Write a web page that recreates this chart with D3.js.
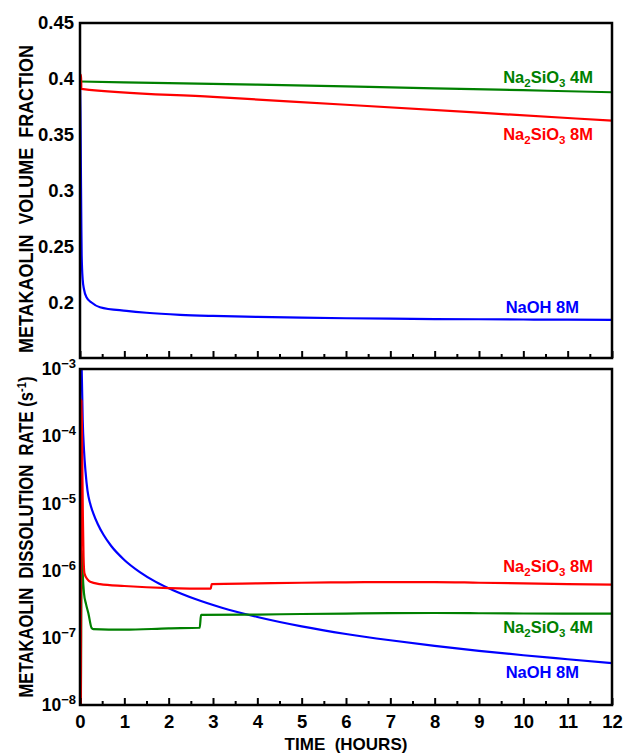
<!DOCTYPE html>
<html>
<head>
<meta charset="utf-8">
<script src="https://cdn.jsdelivr.net/npm/d3@7"></script>
<style>
  body { margin: 0; background: #fff; }
  text { font-family: Arial, "Liberation Sans", Helvetica, sans-serif; font-weight: bold; white-space: pre; }
</style>
</head>
<body>
<div id="chart"></div>
<script>
// ---- data ----
// top panel: metakaolin volume fraction vs time (hours)
var vfNaOH8Time = [0, 0.01, 0.02, 0.03, 0.038, 0.06, 0.09, 0.15, 0.26, 0.45, 1.05, 1.5, 2.26, 3, 4, 5, 6, 7, 8, 9, 10, 11, 12];
var vfNaOH8 = [0.400, 0.370, 0.320, 0.270, 0.2413, 0.2205, 0.2116, 0.2042, 0.1997, 0.1955, 0.1922, 0.1905, 0.1887, 0.1877, 0.1868, 0.1861, 0.1856, 0.1852, 0.1849, 0.1847, 0.1845, 0.1843, 0.1842];
var vfSil8Time = [0, 0.025, 0.03, 3, 6, 9, 12];
var vfSil8 = [0.4036, 0.4036, 0.391, 0.3838, 0.3768, 0.3697, 0.3625];
var vfSil4Time = [0, 2, 4, 6, 8, 10, 12];
var vfSil4 = [0.3976, 0.3962, 0.3948, 0.3932, 0.3915, 0.3898, 0.388];

// bottom panel: dissolution rate (1/s) vs time (hours)
var rNaOH8Time = [0.02, 0.038, 0.061, 0.09, 0.124, 0.169, 0.226, 0.3, 0.4, 0.53, 0.7, 1, 1.35, 1.7, 2.1, 2.6, 3.2, 4, 5, 6, 7, 8, 9, 10, 11, 12];
var rNaOH8 = [2e-3, 1e-3, 1.74e-4, 6.2e-5, 3.0e-5, 1.55e-5, 1.01e-5, 7.1e-6, 4.94e-6, 3.41e-6, 2.34e-6, 1.44e-6, 9.5e-7, 6.85e-7, 5.1e-7, 3.77e-7, 2.8e-7, 2.04e-7, 1.48e-7, 1.14e-7, 9.2e-8, 7.6e-8, 6.4e-8, 5.5e-8, 4.8e-8, 4.2e-8];
var rSil8Time = [0.02, 0.035, 0.05, 0.065, 0.08, 0.1, 0.17, 0.23, 0.45, 1, 2, 2.95, 2.97, 4, 5, 6, 7.2, 8, 9, 10, 11, 12];
var rSil8 = [9e-9, 3.5e-4, 5e-5, 6.3e-6, 1.6e-6, 9.1e-7, 7.4e-7, 6.8e-7, 6.3e-7, 5.9e-7, 5.5e-7, 5.4e-7, 6.3e-7, 6.45e-7, 6.6e-7, 6.7e-7, 6.75e-7, 6.75e-7, 6.6e-7, 6.45e-7, 6.3e-7, 6.2e-7];
var rSil4Time = [0.02, 0.04, 0.06, 0.09, 0.135, 0.19, 0.26, 0.3, 1, 2, 2.7, 2.73, 4, 5, 6, 7, 8, 9, 10, 11, 12];
var rSil4 = [9e-9, 2e-6, 9.1e-7, 4.6e-7, 3.2e-7, 2.3e-7, 1.41e-7, 1.35e-7, 1.32e-7, 1.38e-7, 1.41e-7, 2.19e-7, 2.22e-7, 2.26e-7, 2.29e-7, 2.33e-7, 2.34e-7, 2.32e-7, 2.3e-7, 2.29e-7, 2.29e-7];

var xTicks = [0, 1, 2, 3, 4, 5, 6, 7, 8, 9, 10, 11, 12];
var xMinorTicks = [0.5, 1.5, 2.5, 3.5, 4.5, 5.5, 6.5, 7.5, 8.5, 9.5, 10.5, 11.5];
var vfTicks = [0.2, 0.25, 0.3, 0.35, 0.4, 0.45];
var rateTicks = [1e-3, 1e-4, 1e-5, 1e-6, 1e-7, 1e-8];

var green = "#008000", red = "#ff0000", blue = "#0000ff";

var width = 623, height = 754;
var left = 80, right = 612;

var svg = d3.select("#chart").append("svg")
    .attr("width", width)
    .attr("height", height);

var x = d3.scaleLinear().domain([0, 12]).range([left, right]);
var yTop = d3.scaleLinear().domain([0.15, 0.45]).range([358, 23]);
var yBot = d3.scaleLog().domain([1e-8, 1e-3]).range([705, 369]);

function zip(t, v) { return t.map(function(d, i) { return [d, v[i]]; }); }

function panel(y, id) {
    var g = svg.append("g");
    g.append("clipPath").attr("id", id)
      .append("rect")
        .attr("x", left).attr("y", y.range()[1])
        .attr("width", right - left).attr("height", y.range()[0] - y.range()[1]);
    return g;
}

function drawLines(g, y, series, id) {
    var line = d3.line()
        .x(d => x(d[0]))
        .y(d => y(d[1]))
        .curve(d3.curveMonotoneX);
    var lg = g.append("g").attr("clip-path", "url(#" + id + ")");
    series.forEach(function(s) {
        lg.append("path")
          .datum(s.data)
          .attr("d", line)
          .attr("fill", "none")
          .attr("stroke", s.color)
          .attr("stroke-width", 2.2)
          .attr("stroke-linejoin", "round");
    });
}

function frame(g, y) {
    // x ticks pointing inward, major + minor
    var yb = y.range()[0];
    g.append("g").attr("transform", "translate(0," + yb + ")")
      .call(d3.axisBottom(x).tickValues(xMinorTicks).tickSize(-4).tickFormat(""))
      .call(a => a.select(".domain").remove())
      .selectAll("line").attr("stroke-width", 2);
    var ax = g.append("g").attr("transform", "translate(0," + yb + ")")
      .call(d3.axisBottom(x).tickValues(xTicks).tickSize(-7).tickFormat(""));
    ax.select(".domain").remove();
    ax.selectAll("line").attr("stroke-width", 2);
    g.append("rect")
      .attr("x", left).attr("y", y.range()[1])
      .attr("width", right - left).attr("height", y.range()[0] - y.range()[1])
      .attr("fill", "none").attr("stroke", "#000").attr("stroke-width", 2.5);
    return ax;
}

// label with chemical subscripts: parts = [[text, isSub], ...]
function chemLabel(g, parts, xEnd, yBase, color) {
    var t = g.append("text")
      .attr("x", xEnd).attr("y", yBase)
      .attr("text-anchor", "end")
      .attr("fill", color)
      .style("font-size", "16.5px");
    var wasSub = false;
    parts.forEach(function(p) {
        var ts = t.append("tspan").text(p[0]);
        if (p[1]) { ts.attr("dy", 4).style("font-size", "11.5px"); }
        else if (wasSub) { ts.attr("dy", -4); }
        wasSub = p[1];
    });
}

// ---------- top panel ----------
var gTop = panel(yTop, "clipTop");
drawLines(gTop, yTop, [
    {data: zip(vfNaOH8Time, vfNaOH8), color: blue},
    {data: zip(vfSil4Time, vfSil4), color: green},
    {data: zip(vfSil8Time, vfSil8), color: red}
], "clipTop");
frame(gTop, yTop);

var yAxTop = gTop.append("g").attr("transform", "translate(" + left + ",0)")
    .call(d3.axisLeft(yTop).tickValues(vfTicks).tickSize(0).tickPadding(6)
          .tickFormat(d => String(+d.toFixed(2))));
yAxTop.select(".domain").remove();
yAxTop.selectAll("text").style("font-size", "18.5px").attr("fill", "#000");

gTop.append("text")
    .attr("transform", "translate(33,199) rotate(-90)")
    .attr("text-anchor", "middle")
    .attr("textLength", 308).attr("lengthAdjust", "spacingAndGlyphs")
    .style("font-size", "19.5px")
    .text("METAKAOLIN  VOLUME  FRACTION");

chemLabel(gTop, [["Na", 0], ["2", 1], ["SiO", 0], ["3", 1], [" 4M", 0]], 593, 83, green);
chemLabel(gTop, [["Na", 0], ["2", 1], ["SiO", 0], ["3", 1], [" 8M", 0]], 593, 140, red);
chemLabel(gTop, [["NaOH 8M", 0]], 579, 313, blue);

// ---------- bottom panel ----------
var gBot = panel(yBot, "clipBot");
drawLines(gBot, yBot, [
    {data: zip(rNaOH8Time, rNaOH8), color: blue},
    {data: zip(rSil4Time, rSil4), color: green},
    {data: zip(rSil8Time, rSil8), color: red}
], "clipBot");
frame(gBot, yBot);

// x tick labels under the bottom panel
gBot.append("g").attr("transform", "translate(0,705)")
  .call(d3.axisBottom(x).tickValues(xTicks).tickSize(0).tickPadding(10))
  .call(a => a.select(".domain").remove())
  .selectAll("text").style("font-size", "18.5px").attr("fill", "#000");

var yAxBot = gBot.append("g").attr("transform", "translate(" + left + ",0)")
    .call(d3.axisLeft(yBot).tickValues(rateTicks).tickSize(0).tickPadding(4).tickFormat(""));
yAxBot.select(".domain").remove();
yAxBot.selectAll(".tick text").each(function(d) {
    var t = d3.select(this).style("font-size", "17.5px").attr("fill", "#000");
    t.append("tspan").text("10");
    t.append("tspan").attr("dy", -7).style("font-size", "13px")
      .text("\u2212" + Math.round(-Math.log10(d)));
});

var yTitleBot = gBot.append("text")
    .attr("transform", "translate(33,537) rotate(-90)")
    .attr("text-anchor", "middle")
    .attr("textLength", 321).attr("lengthAdjust", "spacingAndGlyphs")
    .style("font-size", "19.5px");
yTitleBot.append("tspan").text("METAKAOLIN  DISSOLUTION  RATE (s");
yTitleBot.append("tspan").attr("dy", -7).style("font-size", "13px").text("-1");
yTitleBot.append("tspan").attr("dy", 7).text(")");

chemLabel(gBot, [["Na", 0], ["2", 1], ["SiO", 0], ["3", 1], [" 8M", 0]], 593, 572, red);
chemLabel(gBot, [["Na", 0], ["2", 1], ["SiO", 0], ["3", 1], [" 4M", 0]], 593, 633, green);
chemLabel(gBot, [["NaOH 8M", 0]], 579, 678, blue);

svg.append("text")
    .attr("x", x(6)).attr("y", 750)
    .attr("text-anchor", "middle")
    .style("font-size", "17px")
    .text("TIME  (HOURS)");
</script>
</body>
</html>
